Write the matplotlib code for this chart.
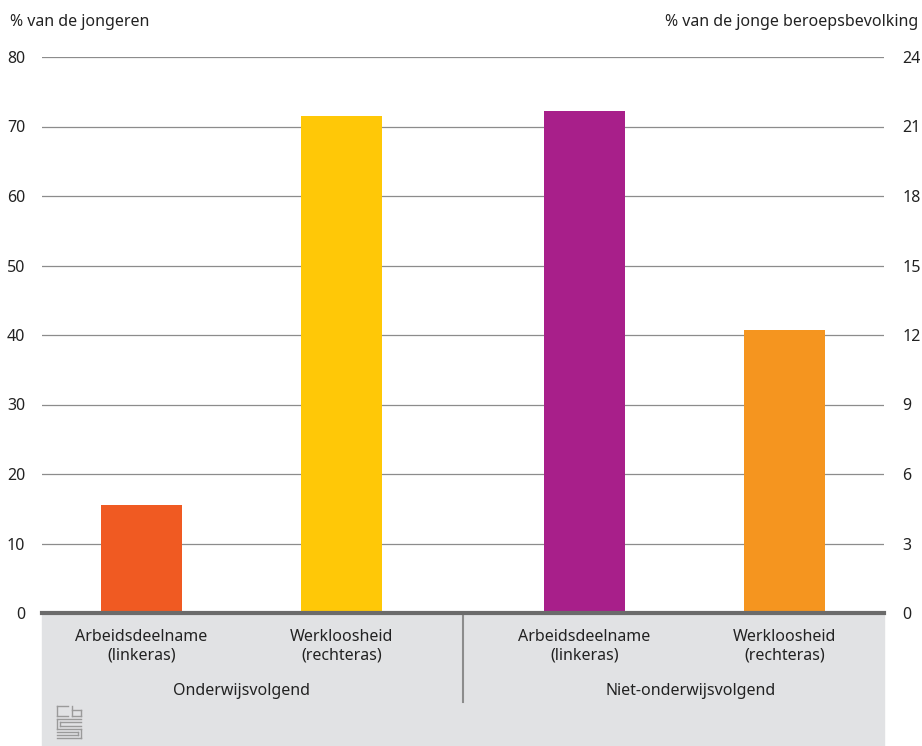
import matplotlib.pyplot as plt
from matplotlib.patches import Rectangle
from matplotlib.lines import Line2D

plt.rcParams['font.family'] = ['Noto Sans', 'DejaVu Sans']

# data
groups = ["Onderwijsvolgend", "Niet-onderwijsvolgend"]
categories = ["Arbeidsdeelname\n(linkeras)", "Werkloosheid\n(rechteras)"]
arbeidsdeelname = [15.5, 72.2]   # linkeras, %
werkloosheid = [21.45, 12.2]     # rechteras, %
colors_arbeid = ["#f05a22", "#a81f8a"]
colors_werk = ["#ffc807", "#f5951f"]

left_ticks = [0, 10, 20, 30, 40, 50, 60, 70, 80]
right_ticks = [0, 3, 6, 9, 12, 15, 18, 21, 24]

W, H = 922, 746
fig = plt.figure(figsize=(W / 100, H / 100), dpi=100)
x0, x1, y0, y1 = 42, 884, 613, 57
ax = fig.add_axes([x0 / W, 1 - y0 / H, (x1 - x0) / W, (y0 - y1) / H])
ax2 = ax.twinx()

# grijs vlak onder de x-as
fig.patches.append(Rectangle((x0 / W, 0), (x1 - x0) / W, 1 - y0 / H,
                             transform=fig.transFigure, color="#e1e2e4", zorder=-5))

group_step = 2.215   # afstand tussen de groepen
bw = 0.405
pos_a = [i * group_step for i in range(2)]
pos_w = [1 + i * group_step for i in range(2)]

ax.bar(pos_a, arbeidsdeelname, width=bw, color=colors_arbeid, zorder=2)
ax2.bar(pos_w, werkloosheid, width=bw, color=colors_werk, zorder=2)

ax.set_xlim(-0.4975, 1 + group_step + 0.4975)
ax.set_ylim(0, 80)
ax2.set_ylim(0, 24)
ax.set_yticks(left_ticks)
ax2.set_yticks(right_ticks)
ax.set_xticks([])
ax.set_axisbelow(True)
ax.grid(axis="y", color="#8c8c8c", lw=0.9)
for a in (ax, ax2):
    for s in a.spines.values():
        s.set_visible(False)
    a.tick_params(axis="y", length=0, labelsize=11.5, colors="#222222")
ax.tick_params(axis="y", pad=12)
ax2.tick_params(axis="y", pad=13)
ax2.axhline(0, color="#6b6b6b", lw=3, zorder=5, clip_on=False)

# categorie- en groepslabels
for i, g in enumerate(groups):
    for j, cat in enumerate(categories):
        xp = j + i * group_step
        ax.annotate(cat, (xp, 0), xycoords=("data", "axes fraction"),
                    xytext=(0, -16), textcoords="offset pixels",
                    ha="center", va="top", fontsize=11.5, color="#222222",
                    linespacing=1.25, annotation_clip=False)
    ax.annotate(g, (0.5 + i * group_step, 0), xycoords=("data", "axes fraction"),
                xytext=(6 * i, -78), textcoords="offset pixels",
                ha="center", va="center", fontsize=11.5, color="#222222",
                annotation_clip=False)

sep = (1 + group_step) / 2
ax.plot([sep, sep], [0, -89 / (y0 - y1)], transform=ax.get_xaxis_transform(),
        color="#8c8c8c", lw=1.5, clip_on=False)

fig.text(10 / W, 1 - 22 / H, "% van de jongeren", fontsize=11.5, color="#222222",
         ha="left", va="center")
fig.text(918 / W, 1 - 22 / H, "% van de jonge beroepsbevolking", fontsize=11.5,
         color="#222222", ha="right", va="center")

# cbs-logo (schets)
lc = "#9a9a9a"
def px(x, y):
    return x / W, 1 - y / H
segs = [
    [(57, 706), (57, 716)], [(57, 706), (68, 706)], [(57, 716), (68, 716)],
    [(72, 706), (72, 716)], [(72, 716), (81, 716)], [(72, 710), (81, 710)],
    [(81, 710), (81, 716)],
    [(57, 719), (81, 719)], [(57, 719), (57, 729)], [(57, 729), (81, 729)],
    [(81, 729), (81, 738)], [(57, 738), (81, 738)],
    [(60, 722), (81, 722)], [(60, 722), (60, 726)], [(60, 726), (81, 726)],
    [(57, 732), (78, 732)], [(78, 732), (78, 735)], [(57, 735), (78, 735)],
]
for (a, b) in segs:
    xa, ya = px(*a)
    xb, yb = px(*b)
    fig.lines.append(Line2D([xa, xb], [ya, yb], transform=fig.transFigure,
                            color=lc, lw=1))

fig.savefig("out.png", dpi=100)
